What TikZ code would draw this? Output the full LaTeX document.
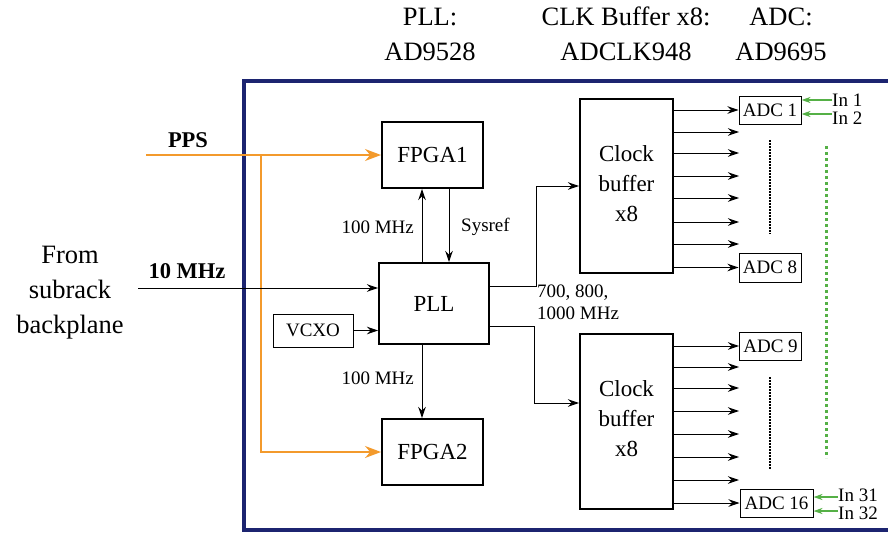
\documentclass[tikz,border=0pt]{standalone}
\usepackage{fontspec}
\setmainfont{Liberation Serif}
\usetikzlibrary{arrows.meta}
\definecolor{framecol}{HTML}{1C2470}
\definecolor{ppscol}{HTML}{F39A2C}
\definecolor{incol}{HTML}{55B046}
\tikzset{
  bigbox/.style={draw, line width=2pt, inner sep=0pt, font=\fontsize{23}{30}\selectfont, align=center},
  smallbox/.style={draw, line width=1pt, inner sep=0pt, font=\fontsize{19}{22}\selectfont},
  lbl/.style={inner sep=0pt, font=\fontsize{19}{22}\selectfont, align=left},
  inlbl/.style={inner sep=0pt, font=\fontsize{19}{22}\selectfont, text height=13pt, text depth=0.5pt, anchor=west},
  toplbl/.style={inner sep=0pt, font=\fontsize{26.5}{35}\selectfont, align=center},
  sig/.style={line width=1pt, -{Stealth[length=11pt,width=7.5pt]}},
  ppsline/.style={line width=1.3pt, ppscol, -{Stealth[length=16pt,width=12pt]}},
  inarrow/.style={line width=1.3pt, incol, -{Stealth[length=9pt,width=6pt]}},
}
\begin{document}
\begin{tikzpicture}[x=1pt,y=-1pt]
\useasboundingbox (0,0) rectangle (888,533);
% frame
\draw[framecol, line width=3.5pt] (895,81) -- (244,81) -- (244,530) -- (895,530);
% top labels
\node[toplbl] (tpll) at (430,34) {PLL:\\AD9528};
\node[toplbl] (tclk) at (626,34) {CLK Buffer x8:\\ADCLK948};
\node[toplbl] (tadc) at (781,34) {ADC:\\AD9695};
\node[toplbl] (from) at (70,293) {From\\subrack\\backplane};
% boxes
\node[bigbox, minimum width=101, minimum height=66] (fpga1) at (432.5,155) {FPGA1};
\node[bigbox, minimum width=110, minimum height=81] (pll) at (434,303.5) {PLL};
\node[bigbox, minimum width=101, minimum height=66] (fpga2) at (432.5,452) {FPGA2};
\node[smallbox, minimum width=80, minimum height=33] (vcxo) at (313,330.5) {VCXO};
\node[bigbox, minimum width=93, minimum height=174] (buf1) at (626.5,186) {Clock\\buffer\\x8\rule{0pt}{0pt}\vspace{5pt}};
\node[bigbox, minimum width=93, minimum height=175] (buf2) at (626.5,421.5) {Clock\\buffer\\x8\vspace{5pt}};
\node[smallbox, minimum width=62, minimum height=28] (adc1) at (770,110) {ADC 1};
\node[smallbox, minimum width=62, minimum height=29] (adc8) at (770,267.5) {ADC 8};
\node[smallbox, minimum width=62, minimum height=28] (adc9) at (770.5,346) {ADC 9};
\node[smallbox, minimum width=73, minimum height=28] (adc16) at (776.5,503) {ADC 16};
% PPS
\node[inner sep=0pt, font=\fontsize{22.5}{26}\selectfont\bfseries] (ppsl) at (188,140) {PPS};
\coordinate (ppsin) at (146,155);
\coordinate (ppsbr) at (261,155);
\draw[ppsline] (ppsin) -- (fpga1.west);
\draw[ppsline] (ppsbr) |- (fpga2.west);
% 10 MHz
\node[inner sep=0pt, font=\fontsize{22.5}{26}\selectfont\bfseries] (tenl) at (187,271) {10 MHz};
\coordinate (tenin) at (138,288);
\draw[sig] (tenin) -- (pll.west |- tenin);
\draw[sig] (vcxo.east) -- (pll.west |- vcxo.east);
% PLL <-> FPGA
\coordinate (xa) at (422,0);
\coordinate (xb) at (449,0);
\draw[sig] (pll.north -| xa) -- (fpga1.south -| xa);
\draw[sig] (fpga1.south -| xb) -- (pll.north -| xb);
\draw[sig] (pll.south -| xa) -- (fpga2.north -| xa);
\node[lbl, anchor=east] (l100a) at (414,227) {100 MHz};
\node[lbl, anchor=west] (lsys) at (461,227) {Sysref};
\node[lbl, anchor=east] (l100b) at (414,378) {100 MHz};
% PLL -> buffers
\coordinate (pu) at (536,286);
\coordinate (pd) at (534,326);
\coordinate (b2in) at (0,403);
\draw[sig] (pll.east |- pu) -- (pu) |- (buf1.west);
\draw[sig] (pll.east |- pd) -- (pd) |- (buf2.west |- b2in);
\node[lbl, anchor=north west] (lfreq) at (537,285) {700, 800,\\1000 MHz};
% buffer 1 outputs
\draw[sig] (buf1.east |- adc1.west) -- (adc1.west);
\foreach \y [count=\i] in {132,153,176,198,222,244} {
  \coordinate (oa\i) at (739,\y);
  \draw[sig] (buf1.east |- oa\i) -- (oa\i);
}
\draw[sig] (buf1.east |- adc8.west) -- (adc8.west);
% buffer 2 outputs
\draw[sig] (buf2.east |- adc9.west) -- (adc9.west);
\foreach \y [count=\i] in {367,388,411,434,457,480} {
  \coordinate (ob\i) at (739,\y);
  \draw[sig] (buf2.east |- ob\i) -- (ob\i);
}
\draw[sig] (buf2.east |- adc16.west) -- (adc16.west);
% dotted lines
\coordinate (d1a) at (770,140); \coordinate (d1b) at (770,234);
\coordinate (d2a) at (770,377); \coordinate (d2b) at (770,470);
\draw[line width=1.2pt, dash pattern=on 1.5pt off 1.5pt] (d1a) -- (d1b);
\draw[line width=1.2pt, dash pattern=on 1.5pt off 1.5pt] (d2a) -- (d2b);
\coordinate (ga) at (826,146); \coordinate (gb) at (826,458);
\draw[incol, line width=3pt, dash pattern=on 3pt off 3pt] (ga) -- (gb);
% inputs
\node[inlbl] (in1) at (832,100) {In 1};
\node[inlbl] (in2) at (832,118) {In 2};
\node[inlbl] (in31) at (838,495) {In 31};
\node[inlbl] (in32) at (838,513) {In 32};
\draw[inarrow] (in1.west |- 0,100) -- (adc1.east |- 0,100);
\draw[inarrow] (in2.west |- 0,114) -- (adc1.east |- 0,114);
\draw[inarrow] (in31.west |- 0,497) -- (adc16.east |- 0,497);
\draw[inarrow] (in32.west |- 0,511) -- (adc16.east |- 0,511);
\end{tikzpicture}
\end{document}
